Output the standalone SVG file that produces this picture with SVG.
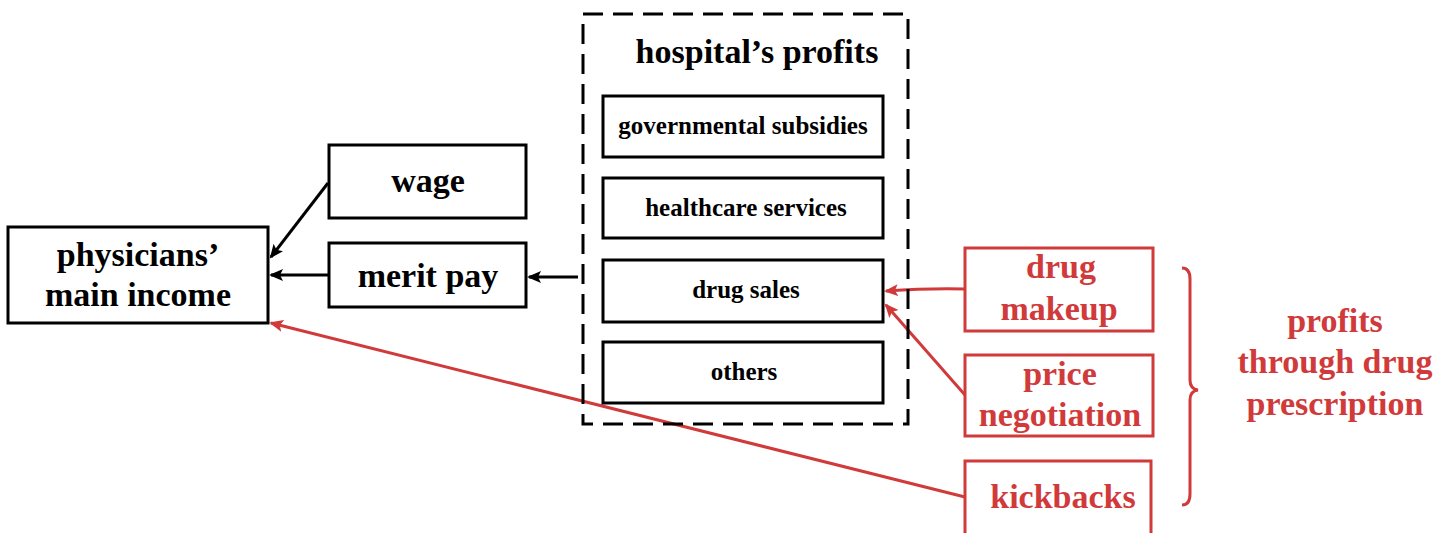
<svg xmlns="http://www.w3.org/2000/svg" width="1439" height="533" viewBox="0 0 1439 533">
  <defs>
    <style>
      .box { fill: #ffffff; stroke: #000000; stroke-width: 3; }
      .rbox { fill: #ffffff; stroke: #d13a3a; stroke-width: 3; }
      .dash { fill: none; stroke: #000000; stroke-width: 3; stroke-dasharray: 20 10; }
      .t { font-family: "Liberation Serif", "Times New Roman", serif; font-weight: bold; fill: #000000; text-anchor: middle; }
      .big { font-size: 34px; }
      .small { font-size: 25px; }
      .red { fill: #d13a3a; }
      .k { fill: none; stroke: #000000; stroke-width: 3; marker-end: url(#ak); }
      .r { fill: none; stroke: #d13a3a; stroke-width: 3; marker-end: url(#ar); }
    </style>
    <marker id="ak" viewBox="0 0 14 12" refX="12" refY="6" markerWidth="14" markerHeight="12" markerUnits="userSpaceOnUse" orient="auto">
      <path d="M0,0 L14,6 L0,12 L3,6 z" fill="#000000"/>
    </marker>
    <marker id="ar" viewBox="0 0 14 12" refX="12" refY="6" markerWidth="14" markerHeight="12" markerUnits="userSpaceOnUse" orient="auto">
      <path d="M0,0 L14,6 L0,12 L3,6 z" fill="#d13a3a"/>
    </marker>
  </defs>

  <!-- connectors -->
  <g id="connectors">
    <path class="k" d="M328,183 L271,257"/>
    <path class="k" d="M328,275 L271,275"/>
    <path class="k" d="M578,277 L529,277"/>
    <path class="r" d="M965,289 Q930,288 886,291"/>
    <path class="r" d="M965,395 L886,305"/>
    <path class="r" d="M965,497 L271,323"/>
  </g>

  <g id="physicians-income">
    <rect class="box" x="8" y="227" width="260" height="96"/>
    <text class="t big" x="138" y="266">physicians’</text>
    <text class="t big" x="138" y="306">main income</text>
  </g>

  <g id="wage">
    <rect class="box" x="329" y="145" width="197" height="73"/>
    <text class="t big" x="428" y="192">wage</text>
  </g>

  <g id="merit-pay">
    <rect class="box" x="329" y="243" width="197" height="64"/>
    <text class="t big" x="428" y="287">merit pay</text>
  </g>

  <g id="hospital-profits">
    <rect class="dash" x="583" y="14" width="325" height="410"/>
    <text class="t big" x="757" y="63">hospital’s profits</text>
  </g>

  <g id="governmental-subsidies">
    <rect class="box" x="603" y="96" width="280" height="61"/>
    <text class="t small" x="743" y="134">governmental subsidies</text>
  </g>

  <g id="healthcare-services">
    <rect class="box" x="603" y="178" width="280" height="60"/>
    <text class="t small" x="746" y="216">healthcare services</text>
  </g>

  <g id="drug-sales">
    <rect class="box" x="603" y="260" width="280" height="62"/>
    <text class="t small" x="746" y="298">drug sales</text>
  </g>

  <g id="others">
    <rect class="box" x="603" y="342" width="280" height="61"/>
    <text class="t small" x="744" y="380">others</text>
  </g>

  <g id="drug-makeup">
    <rect class="rbox" x="965" y="248" width="188" height="83"/>
    <text class="t big red" x="1061" y="278">drug</text>
    <text class="t big red" x="1059" y="320">makeup</text>
  </g>

  <g id="price-negotiation">
    <rect class="rbox" x="965" y="355" width="188" height="81"/>
    <text class="t big red" x="1060" y="385">price</text>
    <text class="t big red" x="1060" y="426">negotiation</text>
  </g>

  <g id="kickbacks">
    <rect class="rbox" x="965" y="461" width="186" height="90"/>
    <text class="t big red" x="1063" y="508">kickbacks</text>
  </g>

  <g id="drug-prescription-profits">
    <path d="M1182,268 Q1190,268 1190,279 L1190,380 Q1190,389 1198,390 Q1190,391 1190,400 L1190,494 Q1190,505 1182,505" fill="none" stroke="#d13a3a" stroke-width="3"/>
    <text class="t big red" x="1335" y="332">profits</text>
    <text class="t big red" x="1335" y="373">through drug</text>
    <text class="t big red" x="1335" y="415">prescription</text>
  </g>
</svg>
